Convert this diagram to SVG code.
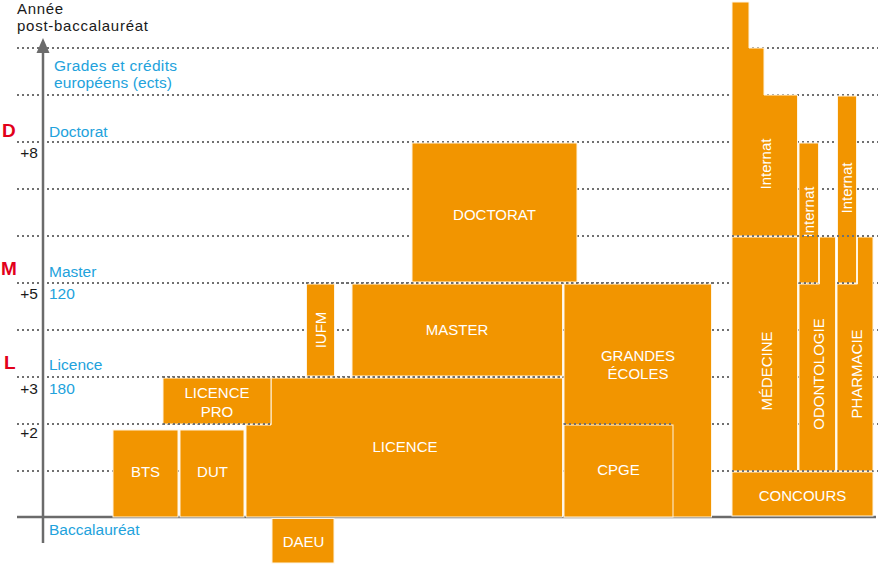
<svg xmlns="http://www.w3.org/2000/svg" width="878" height="565" viewBox="0 0 878 565">
<style>
.grid{stroke:#707070;stroke-width:2;stroke-dasharray:2 3;fill:none}
.box{fill:#f29500;stroke:#fff4e0;stroke-width:1}
.lbl{font-family:"Liberation Sans",Arial,sans-serif;font-size:15px;fill:#fff;text-anchor:middle}
.blk{font-family:"Liberation Sans",Arial,sans-serif;font-size:15px;fill:#1a1a1a}
.blue{font-family:"Liberation Sans",Arial,sans-serif;font-size:15.5px;fill:#22a2dc}
.red{font-family:"Liberation Sans",Arial,sans-serif;font-size:19px;font-weight:bold;fill:#e2001a}
.num{font-family:"Liberation Sans",Arial,sans-serif;font-size:15.5px;fill:#1a1a1a;text-anchor:end}
</style>
<rect width="878" height="565" fill="#fff"/>
<g id="grid">
<line class="grid" x1="17" y1="48" x2="878" y2="48"/>
<line class="grid" x1="17" y1="95" x2="878" y2="95"/>
<line class="grid" x1="17" y1="142" x2="878" y2="142"/>
<line class="grid" x1="17" y1="189" x2="878" y2="189"/>
<line class="grid" x1="17" y1="236" x2="878" y2="236"/>
<line class="grid" x1="17" y1="283" x2="878" y2="283"/>
<line class="grid" x1="17" y1="330" x2="878" y2="330"/>
<line class="grid" x1="17" y1="377" x2="878" y2="377"/>
<line class="grid" x1="17" y1="424" x2="878" y2="424"/>
<line class="grid" x1="17" y1="471" x2="878" y2="471"/>
</g>
<g id="axis">
<line x1="17" y1="517" x2="876" y2="517" stroke="#6b6b6b" stroke-width="2.5"/>
<line x1="43" y1="50" x2="43" y2="543" stroke="#6b6b6b" stroke-width="2.5"/>
<polygon points="43,38 49.5,53 36.5,53" fill="#6b6b6b"/>
</g>
<g id="axis-labels">
<text class="blk" x="17" y="13.5" textLength="46">Année</text>
<text class="blk" x="17" y="30.5" textLength="131">post-baccalauréat</text>
<text class="blue" x="54" y="70.5" textLength="123" font-size="15">Grades et crédits</text>
<text class="blue" x="54" y="87.5" textLength="118" font-size="15">européens (ects)</text>
<text class="red" x="2" y="137">D</text>
<text class="blue" x="49" y="137">Doctorat</text>
<text class="num" x="38" y="158">+8</text>
<text class="red" x="1" y="275">M</text>
<text class="blue" x="49" y="277">Master</text>
<text class="num" x="38" y="299">+5</text>
<text class="blue" x="49" y="299">120</text>
<text class="red" x="4" y="369">L</text>
<text class="blue" x="49" y="370">Licence</text>
<text class="num" x="38" y="394">+3</text>
<text class="blue" x="49" y="394">180</text>
<text class="num" x="38" y="438">+2</text>
<text class="blue" x="49" y="535">Baccalauréat</text>
</g>
<g id="bts"><rect class="box" x="113" y="430" width="65" height="87"/><text class="lbl" x="145.5" y="477">BTS</text></g>
<g id="dut"><rect class="box" x="180" y="430" width="64" height="87"/><text class="lbl" x="212.5" y="477">DUT</text></g>
<g id="licence"><path class="box" d="M246,425 H271 V378 H562.5 V517 H246 Z"/><text class="lbl" x="405" y="452">LICENCE</text></g>
<g id="licence-pro"><rect class="box" x="163" y="378" width="108" height="46"/><text class="lbl" x="217" y="398">LICENCE</text><text class="lbl" x="217" y="417">PRO</text></g>
<g id="daeu"><rect class="box" x="272" y="518.5" width="62" height="44.5"/><text class="lbl" x="303.5" y="547">DAEU</text></g>
<g id="iufm"><rect class="box" x="306.5" y="284" width="28" height="92"/><text class="lbl" transform="translate(325.5,330) rotate(-90)">IUFM</text></g>
<g id="master"><rect class="box" x="352" y="284" width="210.5" height="92"/><text class="lbl" x="457" y="335">MASTER</text></g>
<g id="doctorat"><rect class="box" x="412" y="143" width="165" height="139"/><text class="lbl" x="494.5" y="220">DOCTORAT</text></g>
<g id="grandes-ecoles"><rect class="box" x="564" y="284" width="147.5" height="233"/><text class="lbl" x="638" y="361">GRANDES</text><text class="lbl" x="638" y="379">ÉCOLES</text></g>
<g id="cpge"><rect class="box" x="564" y="425" width="109" height="92"/><text class="lbl" x="618.5" y="475">CPGE</text></g>
<g id="internat-medecine"><polygon class="box" points="732,2 749,2 749,48 764,48 764,95 797.5,95 797.5,236 732,236"/><text class="lbl" transform="translate(770.5,164) rotate(-90)">Internat</text></g>
<g id="medecine"><rect class="box" x="732" y="237" width="65.5" height="234"/><text class="lbl" transform="translate(771.5,371) rotate(-90)">MÉDECINE</text></g>
<g id="internat-odontologie"><rect class="box" x="799" y="143" width="19.5" height="140"/><text class="lbl" transform="translate(813.5,212) rotate(-90)">Internat</text></g>
<g id="odontologie"><polygon class="box" points="819.5,237 835.5,237 835.5,471 799,471 799,284 819.5,284"/><text class="lbl" transform="translate(823.5,374) rotate(-90)">ODONTOLOGIE</text></g>
<g id="internat-pharmacie"><rect class="box" x="837.5" y="96" width="19" height="187"/><text class="lbl" transform="translate(851.5,188) rotate(-90)">Internat</text></g>
<g id="pharmacie"><polygon class="box" points="857.5,237 873,237 873,471 837,471 837,284 857.5,284"/><text class="lbl" transform="translate(861.5,374) rotate(-90)">PHARMACIE</text></g>
<g id="concours"><rect class="box" x="732" y="472" width="141" height="44"/><text class="lbl" x="802.5" y="501">CONCOURS</text></g>
<g id="edges">
<line class="grid" x1="163" y1="377" x2="563" y2="377" stroke-width="1.5"/>
<line class="grid" x1="163" y1="424" x2="271" y2="424" stroke-width="1.5"/>
<line class="grid" x1="306" y1="283" x2="712" y2="283" stroke-width="1.5"/>
<line class="grid" x1="564" y1="424" x2="673" y2="424" stroke-width="1.5"/>
<line class="grid" x1="732" y1="236" x2="873" y2="236" stroke-width="1.5"/>
<line class="grid" x1="732" y1="471" x2="873" y2="471" stroke-width="1.5"/>
<line class="grid" x1="799" y1="283" x2="819" y2="283" stroke-width="1.5"/>
<line class="grid" x1="837" y1="283" x2="857" y2="283" stroke-width="1.5"/>
</g>
</svg>
